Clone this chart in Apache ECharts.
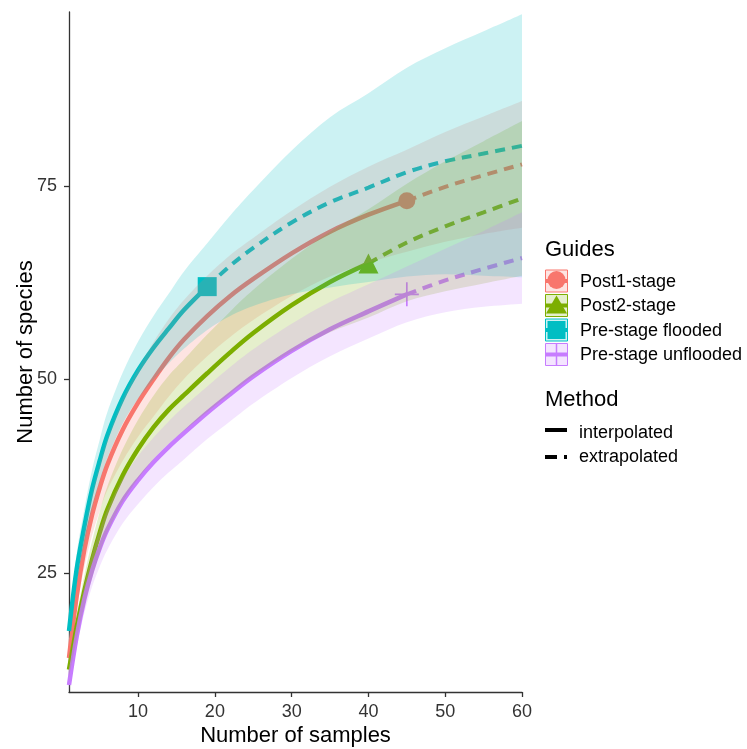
<!DOCTYPE html>
<html>
<head>
<meta charset="utf-8">
<script src="https://cdn.jsdelivr.net/npm/echarts@6/dist/echarts.min.js"></script>
<style>
  html, body { margin: 0; padding: 0; background: #fff; }
  #chart { width: 747px; height: 749px; }
</style>
</head>
<body>
<div id="chart"></div>
<script>
// sample sizes (x) shared by every curve
const samples = [1, 2, 3, 4, 5, 6, 8, 10, 12, 14, 16, 19, 22, 25, 30, 35, 40, 45, 50, 55, 60];
const guides = ['Post1-stage', 'Post2-stage', 'Pre-stage flooded', 'Pre-stage unflooded'];
const observedSize = [45, 40, 19, 45];
const xTicks = [10, 20, 30, 40, 50, 60];
const yTicks = [25, 50, 75];

// Post1-stage
const post1Est = [14, 22, 28, 32.5, 36, 39, 43.5, 47, 50, 52.8, 55.2, 58.2, 60.8, 63, 66.3, 69.1, 71.3, 73.1, 74.9, 76.4, 77.8];
const post1Hi = [15, 23.8, 30.3, 35.2, 39, 42.3, 47.5, 51.4, 54.8, 57.8, 60.3, 63.4, 66.1, 68.3, 71.8, 74.9, 77.5, 79.7, 82, 84, 86];
const post1Lo = [13, 20.2, 25.7, 29.8, 33, 35.7, 39.5, 42.6, 45.2, 47.8, 50.1, 53, 55.5, 57.7, 60.8, 63.3, 65.1, 66.5, 67.8, 68.8, 69.6];
// Post2-stage
const post2Est = [12.5, 18, 22.7, 26.7, 30.2, 33.2, 37.6, 41, 43.8, 46.1, 48, 50.8, 53.5, 56, 59.6, 62.6, 65, 67.7, 69.8, 71.6, 73.4];
const post2Hi = [13.5, 19.6, 24.7, 29.1, 32.9, 36.2, 41, 44.8, 47.9, 50.5, 52.6, 55.8, 58.8, 61.6, 65.6, 69.1, 72, 75.3, 78.2, 80.8, 83.4];
const post2Lo = [11.5, 16.4, 20.7, 24.3, 27.5, 30.2, 34.2, 37.2, 39.7, 41.7, 43.4, 45.8, 48.2, 50.4, 53.6, 56.1, 58, 60.1, 61.4, 62.4, 63.4];
// Pre-stage flooded
const floodEst = [17.5, 25.5, 31, 35.8, 39.5, 42.8, 47.6, 51.2, 54.1, 56.6, 59, 62, 64.7, 67, 70.3, 72.9, 74.8, 76.8, 78.2, 79.2, 80.2];
const floodHi = [19, 27.5, 33.3, 38.3, 42.2, 45.8, 50.9, 54.9, 58.2, 61.1, 64, 67.6, 71.2, 74.5, 79.6, 83.9, 87, 90.3, 92.8, 95, 97.2];
const floodLo = [16, 23.5, 28.7, 33.3, 36.8, 39.8, 44.3, 47.5, 50, 52.1, 54, 56.4, 58.2, 59.5, 61, 61.9, 62.6, 63.3, 63.6, 63.4, 63.2];
// Pre-stage unflooded
const unfloodEst = [10.5, 16.8, 21.6, 25.3, 28.2, 30.6, 34.3, 37, 39.3, 41.3, 43.1, 45.7, 48.1, 50.4, 53.7, 56.5, 58.8, 61, 62.8, 64.3, 65.7];
const unfloodHi = [11.3, 18.2, 23.4, 27.4, 30.6, 33.2, 37.2, 40.1, 42.5, 44.6, 46.5, 49.1, 51.6, 53.9, 57.2, 60, 62.3, 64.6, 66.9, 69.2, 71.6];
const unfloodLo = [9.7, 15.4, 19.8, 23.2, 25.8, 28, 31.4, 33.9, 36.1, 38, 39.7, 42.3, 44.6, 46.9, 50.2, 53, 55.3, 57.4, 58.7, 59.4, 59.8];

const colors = ['#F8766D', '#7CAE00', '#00BFC4', '#C77CFF'];
const bandFill = ['rgba(248,118,109,0.2)', 'rgba(124,174,0,0.2)', 'rgba(0,191,196,0.2)', 'rgba(199,124,255,0.2)'];
const FONT = '"Liberation Sans", Arial, sans-serif';

const crossPath = 'path://M9.3,0H10.7V9.3H20V10.7H10.7V20H9.3V10.7H0V9.3H9.3Z';
const groups = [
  {est: post1Est, hi: post1Hi, lo: post1Lo, symbol: 'circle', size: 17},
  {est: post2Est, hi: post2Hi, lo: post2Lo, symbol: 'triangle', size: 20},
  {est: floodEst, hi: floodHi, lo: floodLo, symbol: 'rect', size: 19},
  {est: unfloodEst, hi: unfloodHi, lo: unfloodLo, symbol: crossPath, size: 24}
]

const pairs = (arr, from, to) => samples.slice(from, to).map((x, i) => [x, arr[from + i]])

// catmull-rom through already projected pixel points -> svg path commands
function curveCmds(p) {
  let d = ''
  for (let i = 0; i < p.length - 1; i++) {
    let a = p[Math.max(i - 1, 0)], b = p[i], c = p[i + 1], e = p[Math.min(i + 2, p.length - 1)]
    let c1 = [b[0] + (c[0] - a[0]) / 6, b[1] + (c[1] - a[1]) / 6]
    let c2 = [c[0] - (e[0] - b[0]) / 6, c[1] - (e[1] - b[1]) / 6]
    d += 'C' + c1.join(' ') + ' ' + c2.join(' ') + ' ' + c.join(' ')
  }
  return d
}

let series = []
groups.forEach((g, k) => {
  let t = samples.indexOf(observedSize[k])
  // interpolated
  series.push({
    type: 'line', name: guides[k], data: pairs(g.est, 0, t + 1),
    showSymbol: false, smooth: 0.35, z: 2, silent: true,
    lineStyle: {color: colors[k], width: 4.5}
  })
  // extrapolated
  series.push({
    type: 'line', name: guides[k], data: pairs(g.est, t, samples.length),
    showSymbol: false, smooth: 0.35, z: 2, silent: true,
    lineStyle: {color: colors[k], width: 4, type: [10, 7]}
  })
  // observed point
  series.push({
    type: 'scatter', data: [[samples[t], g.est[t]]], symbol: g.symbol, symbolSize: g.size,
    z: 3, silent: true, itemStyle: {color: colors[k], opacity: 1}
  })
})
// ribbons drawn over the lines, like ggplot
groups.forEach((g, k) => {
  series.push({
    type: 'custom', z: 5, silent: true,
    data: [[samples[0], g.lo[0]]],
    renderItem: function (params, api) {
      let top = samples.map((x, i) => api.coord([x, g.hi[i]]))
      let bot = samples.map((x, i) => api.coord([x, g.lo[i]])).reverse()
      let d = 'M' + top[0].join(' ') + curveCmds(top) + 'L' + bot[0].join(' ') + curveCmds(bot) + 'Z'
      return {type: 'path', shape: {pathData: d}, style: {fill: bandFill[k]}}
    }
  })
})

// legend drawn by hand (ggplot style keys)
let graphic = []
graphic.push({type: 'text', style: {text: 'Guides', x: 545, y: 250, font: '22px ' + FONT, fill: '#000', verticalAlign: 'middle'}})
const rowY = [281, 305.5, 330, 354.5]
rowY.forEach((cy, k) => {
  let c = colors[k]
  let items = []
  items.push({type: 'line', shape: {x1: 545.5, y1: cy, x2: 567.5, y2: cy}, style: {stroke: c, lineWidth: 4}})
  if (k === 0) items.push({type: 'circle', shape: {cx: 556.5, cy: cy - 1, r: 9}, style: {fill: c}})
  if (k === 1) items.push({type: 'polygon', shape: {points: [[556.5, cy - 10], [567, cy + 8], [546, cy + 8]]}, style: {fill: c}})
  if (k === 2) items.push({type: 'rect', shape: {x: 547.5, y: cy - 9, width: 18, height: 18}, style: {fill: c}})
  if (k === 3) {
    items.push({type: 'line', shape: {x1: 556.5, y1: cy - 11, x2: 556.5, y2: cy + 11}, style: {stroke: c, lineWidth: 1.5}})
  }
  items.push({type: 'rect', shape: {x: 545.5, y: cy - 11, width: 22, height: 22}, style: {fill: bandFill[k], stroke: c, lineWidth: 1}})
  items.push({type: 'text', style: {text: guides[k], x: 580, y: cy + 1, font: '18px ' + FONT, fill: '#000', verticalAlign: 'middle'}})
  graphic.push(...items)
})
graphic.push({type: 'text', style: {text: 'Method', x: 545, y: 400, font: '22px ' + FONT, fill: '#000', verticalAlign: 'middle'}})
graphic.push({type: 'line', shape: {x1: 545, y1: 430, x2: 567, y2: 430}, style: {stroke: '#000', lineWidth: 4}})
graphic.push({type: 'line', shape: {x1: 545, y1: 457, x2: 567, y2: 457}, style: {stroke: '#000', lineWidth: 4, lineDash: [12, 7]}})
graphic.push({type: 'text', style: {text: 'interpolated', x: 579, y: 433, font: '18px ' + FONT, fill: '#000', verticalAlign: 'middle'}})
graphic.push({type: 'text', style: {text: 'extrapolated', x: 579, y: 457, font: '18px ' + FONT, fill: '#000', verticalAlign: 'middle'}})

let chart = echarts.init(document.getElementById('chart'))
chart.setOption({
  animation: false,
  backgroundColor: '#fff',
  textStyle: {fontFamily: FONT},
  grid: {left: 69, right: 225, top: 12, bottom: 57, containLabel: false, outerBoundsMode: 'none'},
  xAxis: {
    type: 'value', min: 1, max: 60,
    name: 'Number of samples', nameLocation: 'middle', nameGap: 33, nameMoveOverlap: false,
    nameTextStyle: {fontSize: 22, color: '#000', fontFamily: FONT},
    axisLine: {show: true, lineStyle: {color: '#333', width: 1.3}},
    axisTick: {show: true, length: 5, customValues: xTicks, lineStyle: {color: '#333', width: 1.3}},
    axisLabel: {customValues: xTicks, fontSize: 18, color: '#333', margin: 11, fontFamily: FONT},
    splitLine: {show: false}
  },
  yAxis: {
    type: 'value', min: 9.6, max: 97.5,
    name: 'Number of species', nameLocation: 'middle', nameGap: 32, nameRotate: 90, nameMoveOverlap: false,
    nameTextStyle: {fontSize: 22, color: '#000', fontFamily: FONT},
    axisLine: {show: true, lineStyle: {color: '#333', width: 1.3}},
    axisTick: {show: true, length: 5, customValues: yTicks, lineStyle: {color: '#333', width: 1.3}},
    axisLabel: {customValues: yTicks, fontSize: 18, color: '#333', margin: 12, fontFamily: FONT},
    splitLine: {show: false}
  },
  graphic: graphic,
  series: series
})
</script>
</body>
</html>
